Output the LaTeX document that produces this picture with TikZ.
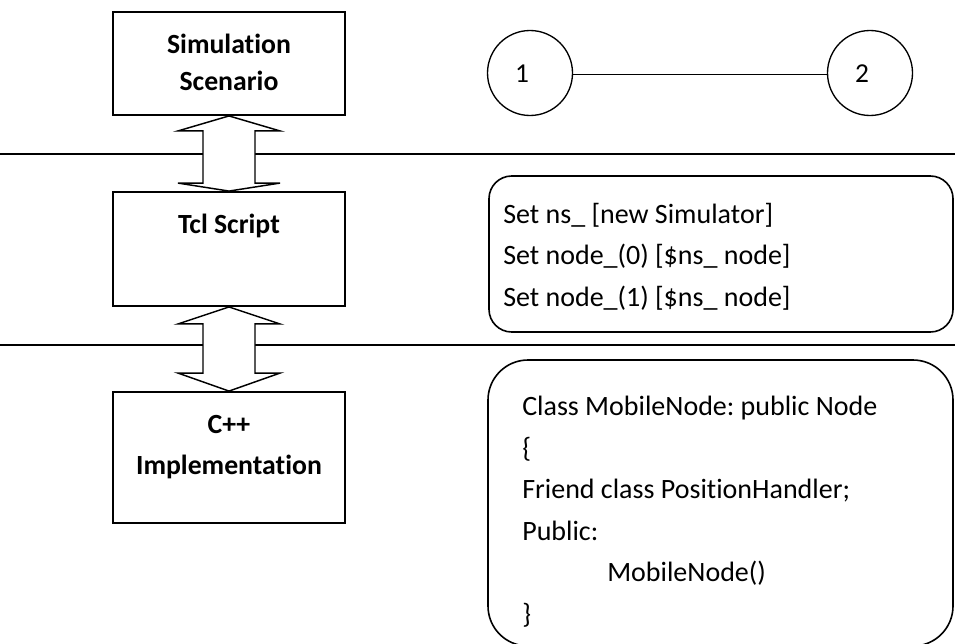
\documentclass[tikz,border=0pt]{standalone}
\usepackage{fontspec}
\setmainfont{Carlito}[Ligatures=NoCommon]
\frenchspacing
\usetikzlibrary{fit,calc}

\tikzset{
  layerbox/.style={draw, line width=1.4pt, inner sep=0pt, fill=white},
  codebox/.style={draw, line width=1.2pt, inner sep=0pt},
  netnode/.style={draw, circle, line width=1pt, minimum size=63.75pt, inner sep=0pt},
  sepline/.style={line width=1.2pt},
  bigarrow/.style={draw, line width=1.1pt, fill=white, line join=miter},
  linkline/.style={line width=1pt},
  boldlabel/.style={font=\fontsize{20.8pt}{24pt}\selectfont\bfseries, anchor=base, inner sep=0pt},
  codeline/.style={font=\fontsize{21pt}{24pt}\selectfont, anchor=base west, inner sep=0pt},
  numlabel/.style={font=\fontsize{20.5pt}{24pt}\selectfont, anchor=base, inner sep=0pt}
}

\begin{document}
\begin{tikzpicture}[x=0.75pt, y=-0.75pt]
\useasboundingbox (0,0) rectangle (955,643);

% layer separators
\coordinate (l1w) at (0,154);
\coordinate (l1e) at (955,154);
\coordinate (l2w) at (0,345);
\coordinate (l2e) at (955,345);
\draw[sepline] (l1w) -- (l1e);
\draw[sepline] (l2w) -- (l2e);

% corner points of the layer boxes
\coordinate (b1a) at (113,12);  \coordinate (b1b) at (345,115);
\coordinate (b2a) at (113,192); \coordinate (b2b) at (345,306);
\coordinate (b3a) at (113,392); \coordinate (b3b) at (345,523);

\node[layerbox, fit=(b1a)(b1b)] (b1) {};
\node[layerbox, fit=(b2a)(b2b)] (b2) {};
\node[layerbox, fit=(b3a)(b3b)] (b3) {};

\node[boldlabel] (t1a) at (229,53) {Simulation};
\node[boldlabel] (t1b) at (229,90.5) {Scenario};
\node[boldlabel] (t2) at (229,233) {Tcl Script};
\node[boldlabel] (t3a) at (229,433) {C++};
\node[boldlabel] (t3b) at (229,474) {Implementation};

% two-way arrows between the layers
\path[bigarrow] (b1.south) -- ++(51,15) -- ++(-25,0)
  -- ($(b2.north)+(26,-8)$) -- ++(25,0) -- (b2.north) -- ++(-51,-8)
  -- ++(25,0) -- ($(b1.south)+(-26,15)$) -- ++(-25,0) -- cycle;
\path[bigarrow] (b2.south) -- ++(51,17) -- ++(-25,0)
  -- ($(b3.north)+(26,-18)$) -- ++(25,0) -- (b3.north) -- ++(-51,-18)
  -- ++(25,0) -- ($(b2.south)+(-26,17)$) -- ++(-25,0) -- cycle;

% simulated topology
\node[netnode] (n1) at (530,73) {};
\node[netnode] (n2) at (870,73) {};
\draw[linkline] (n1.-2) -- (n2.182);
\node[numlabel] (n1l) at (522,82) {1};
\node[numlabel] (n2l) at (862,82) {2};

% Tcl script
\coordinate (c1a) at (489,176); \coordinate (c1b) at (953,332);
\node[codebox, rounded corners=17pt, fit=(c1a)(c1b)] (tcl) {};
\node[codeline] (s1) at (503,223) {Set ns\_ [new Simulator]};
\node[codeline] (s2) at (503,264.7) {Set node\_(0) [\$ns\_ node]};
\node[codeline] (s3) at (503,306.4) {Set node\_(1) [\$ns\_ node]};

% C++ class
\coordinate (c2a) at (488,360); \coordinate (c2b) at (953,646);
\node[codebox, rounded corners=30pt, fit=(c2a)(c2b)] (cpp) {};
\node[codeline] (k1) at (522,415) {Class MobileNode: public Node};
\node[codeline] (k2) at (522,457) {\{};
\node[codeline] (k3) at (522,498) {Friend class PositionHandler;};
\node[codeline] (k4) at (522,540) {Public:};
\node[codeline] (k5) at (607,581) {MobileNode()};
\node[codeline] (k6) at (522,623) {\}};
\end{tikzpicture}
\end{document}
